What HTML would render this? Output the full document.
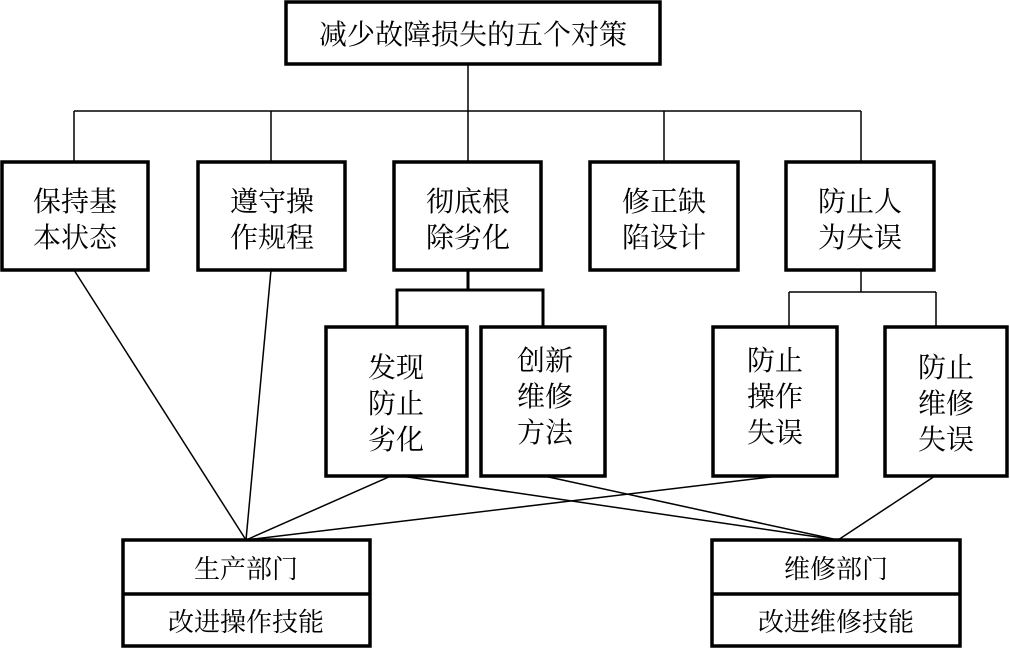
<!DOCTYPE html>
<html><head><meta charset="utf-8"><style>
html,body{margin:0;padding:0;background:#fff;}
svg text{font-family:"Liberation Serif","Noto Serif CJK SC",serif;font-size:28px;fill:#000;text-anchor:middle;}
</style></head><body>
<svg width="1010" height="649" viewBox="0 0 1010 649" xmlns="http://www.w3.org/2000/svg">
<g fill="none" stroke="#000">
<!-- thin connectors -->
<g stroke-width="1.5">
<line x1="468" y1="64" x2="468" y2="162"/>
<line x1="74" y1="111" x2="861" y2="111"/>
<line x1="74" y1="111" x2="74" y2="162"/>
<line x1="271" y1="111" x2="271" y2="162"/>
<line x1="664" y1="111" x2="664" y2="162"/>
<line x1="861" y1="111" x2="861" y2="162"/>
<line x1="861" y1="270" x2="861" y2="292"/>
<line x1="789" y1="292" x2="936" y2="292"/>
<line x1="789" y1="292" x2="789" y2="326"/>
<line x1="936" y1="292" x2="936" y2="326"/>
<line x1="74" y1="270" x2="246" y2="540"/>
<line x1="271" y1="270" x2="246" y2="540"/>
<line x1="391" y1="476" x2="246" y2="540"/>
<line x1="779" y1="476" x2="246" y2="540"/>
<line x1="401" y1="476" x2="838" y2="540"/>
<line x1="544" y1="476" x2="838" y2="540"/>
<line x1="935" y1="476" x2="838" y2="540"/>
</g>
<g stroke-width="3">
<line x1="468" y1="270" x2="468" y2="290"/>
<polyline points="397,327 397,290 543,290 543,327"/>
</g>
<g stroke-width="3.5">
<rect x="286" y="2" width="374" height="62"/>
<rect x="2" y="162" width="146" height="108"/>
<rect x="198" y="162" width="147" height="108"/>
<rect x="394" y="162" width="147" height="108"/>
<rect x="590" y="162" width="148" height="108"/>
<rect x="786" y="162" width="148" height="108"/>
<rect x="326" y="327" width="141" height="149"/>
<rect x="481" y="327" width="124" height="149"/>
<rect x="713" y="327" width="124" height="149"/>
<rect x="885" y="327" width="122" height="149"/>
<rect x="123" y="540" width="247" height="106"/>
<line x1="123" y1="594" x2="370" y2="594"/>
<rect x="712" y="540" width="248" height="106"/>
<line x1="712" y1="594" x2="960" y2="594"/>
</g>
</g>
<text x="473" y="44">减少故障损失的五个对策</text>
<text x="75" y="211">保持基</text><text x="75" y="247">本状态</text>
<text x="272" y="211">遵守操</text><text x="272" y="247">作规程</text>
<text x="468" y="211">彻底根</text><text x="468" y="247">除劣化</text>
<text x="664" y="211">修正缺</text><text x="664" y="247">陷设计</text>
<text x="860" y="211">防止人</text><text x="860" y="247">为失误</text>
<text x="396" y="377">发现</text><text x="396" y="413">防止</text><text x="396" y="449">劣化</text>
<text x="545" y="370">创新</text><text x="545" y="406">维修</text><text x="545" y="442">方法</text>
<text x="775" y="370">防止</text><text x="775" y="406">操作</text><text x="775" y="442">失误</text>
<text x="946" y="377">防止</text><text x="946" y="413">维修</text><text x="946" y="449">失误</text>
<text x="246" y="578" style="font-size:26px">生产部门</text>
<text x="246" y="631" style="font-size:26px">改进操作技能</text>
<text x="836" y="578" style="font-size:26px">维修部门</text>
<text x="836" y="631" style="font-size:26px">改进维修技能</text>
</svg>
</body></html>
